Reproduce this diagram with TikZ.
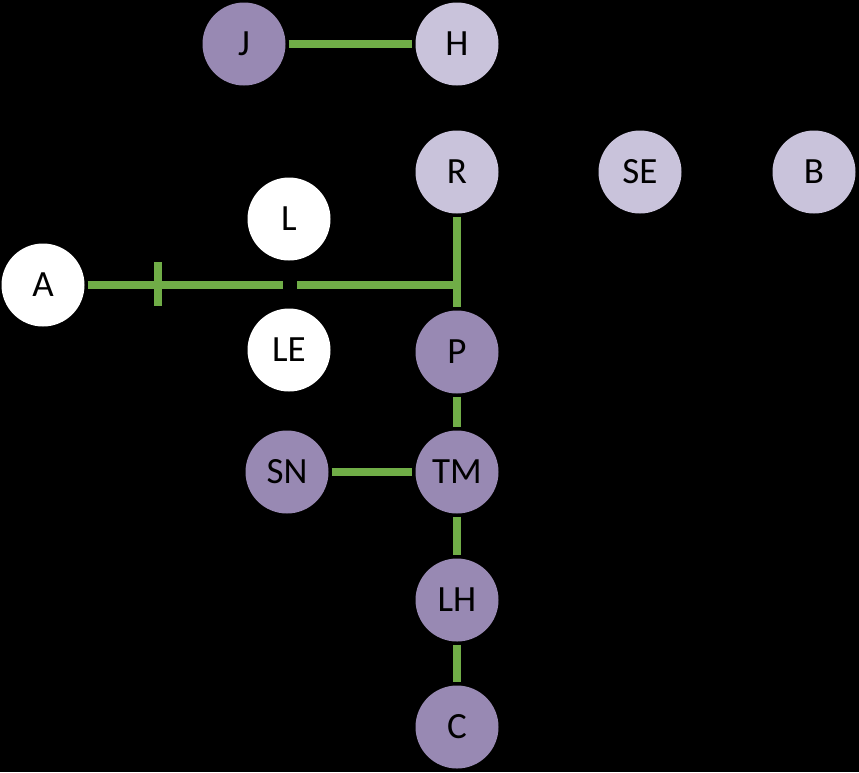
\documentclass[tikz,border=0pt]{standalone}
\usepackage{fontspec}
\setmainfont{Carlito}
\definecolor{darkp}{HTML}{9889B3}
\definecolor{lightp}{HTML}{C9C3DB}
\definecolor{edgegreen}{HTML}{70AD47}
\begin{document}
\begin{tikzpicture}[x=1pt,y=-1pt,
  nd/.style={circle,minimum size=83pt,inner sep=0pt,font=\fontsize{37}{39}\selectfont,text=black},
  dk/.style={nd,fill=darkp},
  lt/.style={nd,fill=lightp},
  wt/.style={nd,fill=white},
  link/.style={draw=edgegreen,line width=8pt,shorten <=3pt,shorten >=3pt},
  seg/.style={draw=edgegreen,line width=8pt}]
\fill[black] (0,0) rectangle (859,772);
\useasboundingbox (0,0) rectangle (859,772);
\node[dk] (J) at (244,44) {J};
\node[lt] (H) at (457,44) {H};
\node[lt] (R) at (457,172) {R};
\node[lt] (SE) at (640,172) {SE};
\node[lt] (B) at (814,172) {B};
\node[wt] (L) at (289,219) {L};
\node[wt] (A) at (43,285) {A};
\node[wt] (LE) at (289,350) {LE};
\node[dk] (P) at (457,352) {P};
\node[dk] (SN) at (287,472) {SN};
\node[dk] (TM) at (457,472) {TM};
\node[dk] (LH) at (457,600) {LH};
\node[dk] (C) at (457,727) {C};
\coordinate (gapL) at (283,285);
\coordinate (gapR) at (297,285);
\coordinate (junc) at (457,285);
\coordinate (rp) at (457,307);
\coordinate (tickT) at (158,262);
\coordinate (tickB) at (158,306);
\path[link] (J) -- (H);
\path[link,shorten >=0pt] (A) -- (gapL);
\path[seg] (gapR) -- (junc);
\path[seg,shorten <=3pt] (R) -- (rp);
\path[seg] (tickT) -- (tickB);
\path[link] (P) -- (TM);
\path[link] (SN) -- (TM);
\path[link] (TM) -- (LH);
\path[link] (LH) -- (C);
\end{tikzpicture}
\end{document}
